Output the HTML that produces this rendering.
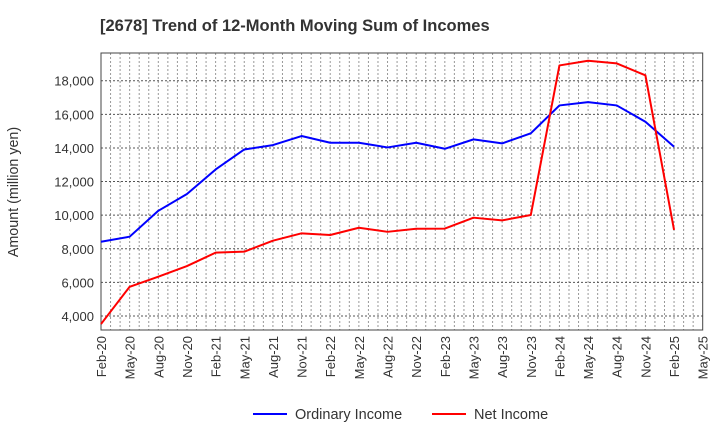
<!DOCTYPE html>
<html><head><meta charset="utf-8"><style>
body{margin:0;background:#fff;font-family:"Liberation Sans",Arial,sans-serif}
</style></head><body>
<svg id="chart" width="720" height="440" xmlns="http://www.w3.org/2000/svg" font-family="Liberation Sans, Arial, sans-serif">
<text x="100" y="31" font-size="16.5" font-weight="bold" fill="#333">[2678]  Trend of 12-Month Moving Sum of Incomes</text>
<g id="grid"></g>
<g id="axes"></g>
<g id="series"></g>
<text transform="translate(18,192) rotate(-90)" text-anchor="middle" font-size="14.3" fill="#333">Amount (million yen)</text>
<g>
<line x1="253" y1="414" x2="287" y2="414" stroke="#0000ff" stroke-width="2"/>
<text x="295" y="419" font-size="14.5" fill="#333">Ordinary Income</text>
<line x1="432" y1="414" x2="466" y2="414" stroke="#ff0000" stroke-width="2"/>
<text x="474" y="419" font-size="14.5" fill="#333">Net Income</text>
</g>
</svg>
<script>
const categories=["Feb-20","May-20","Aug-20","Nov-20","Feb-21","May-21","Aug-21","Nov-21","Feb-22","May-22","Aug-22","Nov-22","Feb-23","May-23","Aug-23","Nov-23","Feb-24","May-24","Aug-24","Nov-24","Feb-25","May-25"];
const ordinaryIncome=[8420,8720,10260,11260,12720,13910,14170,14710,14310,14310,14030,14310,13950,14510,14270,14870,16530,16730,16530,15560,14070];
const netIncome=[3520,5740,6340,6970,7770,7830,8480,8920,8820,9250,9010,9190,9200,9850,9690,10010,18910,19190,19030,18320,9120];
const yTicks=[4000,6000,8000,10000,12000,14000,16000,18000];
const yMin=3167,yMax=19650;
const L=101,R=702.7,T=53,B=330;
const NS="http://www.w3.org/2000/svg";
const xStep=(R-L)/21;
function x(i){return L+i*xStep;}
function y(v){return B-(v-yMin)/(yMax-yMin)*(B-T);}
function mk(tag,attrs,parent){const e=document.createElementNS(NS,tag);for(const k in attrs)e.setAttribute(k,attrs[k]);parent.appendChild(e);return e;}
const grid=document.getElementById('grid'),axes=document.getElementById('axes'),series=document.getElementById('series');
for(let m=1;m<63;m++){const gx=L+m*xStep/3;
const ln=mk('line',{x1:gx,x2:gx,y1:T,y2:B,stroke:'#999','stroke-width':1,'stroke-dasharray':'2,2'},grid);

}
yTicks.forEach(v=>{
const ln=mk('line',{x1:L,x2:R,y1:y(v),y2:y(v),stroke:'#555','stroke-width':1,'stroke-dasharray':'2,2'},grid);


const t=mk('text',{x:L-7,y:y(v)+5,'text-anchor':'end','font-size':13,fill:'#333'},axes);
t.textContent=v.toLocaleString('en-US');

});
const frame=mk('rect',{x:L,y:T,width:R-L,height:B-T,fill:'none',stroke:'#444','stroke-width':1},axes);


categories.forEach((c,i)=>{
const t=mk('text',{transform:`translate(${x(i)+5},${B+6}) rotate(-90)`,'text-anchor':'end','font-size':13,fill:'#333'},axes);
t.textContent=c;

});
function line(data,color,name){
const p=mk('polyline',{points:data.map((v,i)=>x(i)+','+y(v)).join(' '),fill:'none',stroke:color,'stroke-width':2,'stroke-linejoin':'round'},series);

}
line(ordinaryIncome,'#0000ff','ordinary-income-line');
line(netIncome,'#ff0000','net-income-line');
</script>
</body></html>
